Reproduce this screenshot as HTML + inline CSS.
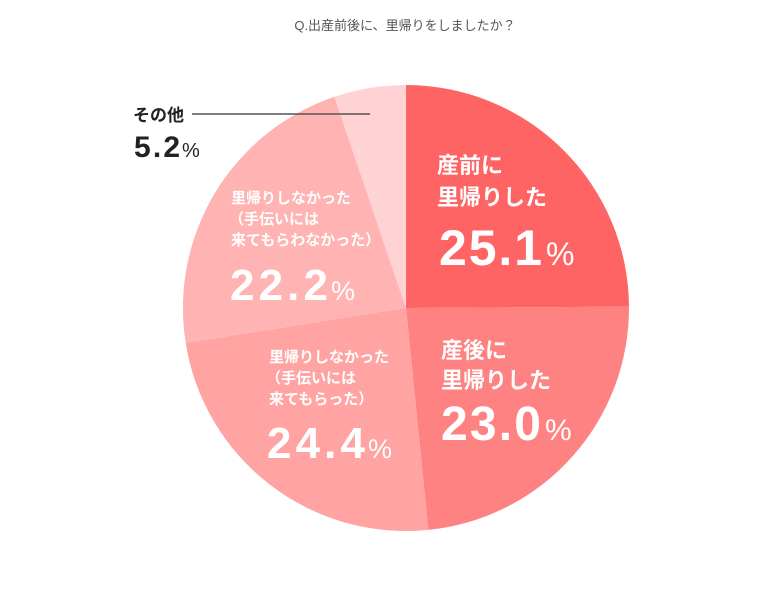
<!DOCTYPE html>
<html><head><meta charset="utf-8"><style>
body{margin:0;background:#fff;width:771px;height:593px;overflow:hidden;font-family:"Liberation Sans","Noto Sans CJK JP",sans-serif}
</style></head><body>
<svg width="771" height="593" xmlns="http://www.w3.org/2000/svg" font-family="Liberation Sans, Noto Sans CJK JP, sans-serif">
<text x="405" y="30" font-size="13" fill="#555" text-anchor="middle">Q.出産前後に、里帰りをしましたか？</text>
<path d="M406,308 L406,85 A223,223 0 0 1 629,306.6 Z" fill="#FF6464"/>
<path d="M406,308 L629,306.6 A223,223 0 0 1 428.4,529.9 Z" fill="#FF8282"/>
<path d="M406,308 L428.4,529.9 A223,223 0 0 1 185.7,342.9 Z" fill="#FFA3A3"/>
<path d="M406,308 L185.7,342.9 A223,223 0 0 1 334.4,96.8 Z" fill="#FFB3B3"/>
<path d="M406,308 L334.4,96.8 A223,223 0 0 1 406,85 Z" fill="#FFD3D3"/>
<line x1="192" y1="114" x2="370" y2="114" stroke="#555" stroke-width="1.5"/>
<text x="133" y="121" font-size="17" font-weight="bold" fill="#222">その他</text>
<text x="134" y="157" font-size="30" font-weight="bold" fill="#222" textLength="46" lengthAdjust="spacing">5.2</text>
<text x="182" y="157" font-size="20" fill="#222">%</text>
<g fill="#fff" font-weight="bold">
<text x="437" y="173" font-size="22">産前に</text>
<text x="437" y="205" font-size="22">里帰りした</text>
<text x="439" y="265" font-size="50" textLength="103" lengthAdjust="spacing">25.1</text>
<text x="546" y="265" font-size="32" font-weight="normal">%</text>
<text x="441" y="358" font-size="22">産後に</text>
<text x="441" y="388" font-size="22">里帰りした</text>
<text x="441" y="440" font-size="48" textLength="100" lengthAdjust="spacing">23.0</text>
<text x="545" y="440" font-size="30" font-weight="normal">%</text>
<text x="231" y="203" font-size="15">里帰りしなかった</text>
<text x="229" y="224" font-size="15">（手伝いには</text>
<text x="231" y="245" font-size="15">来てもらわなかった）</text>
<text x="230" y="300" font-size="44" textLength="98" lengthAdjust="spacing">22.2</text>
<text x="331" y="300" font-size="27" font-weight="normal">%</text>
<text x="269" y="362" font-size="15">里帰りしなかった</text>
<text x="266" y="383" font-size="15">（手伝いには</text>
<text x="269" y="404" font-size="15">来てもらった）</text>
<text x="267" y="458" font-size="44" textLength="98" lengthAdjust="spacing">24.4</text>
<text x="368" y="458" font-size="27" font-weight="normal">%</text>
</g>
</svg>
</body></html>
